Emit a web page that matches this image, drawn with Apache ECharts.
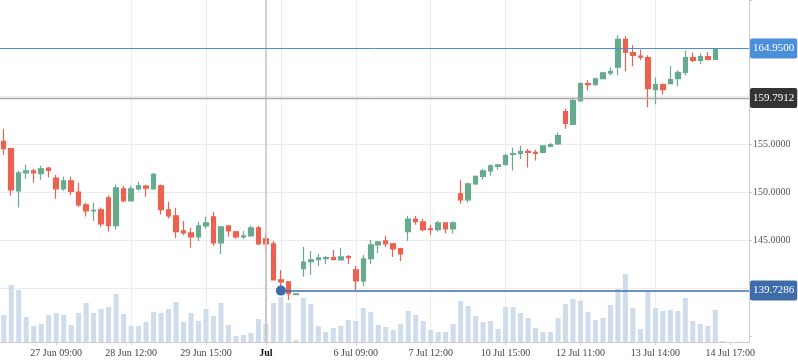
<!DOCTYPE html>
<html><head><meta charset="utf-8">
<script src="https://cdn.jsdelivr.net/npm/echarts@6/dist/echarts.min.js"></script>
<style>html,body{margin:0;padding:0;background:#fff}#c{width:798px;height:363px}</style>
</head><body><div id="c"></div>
<script>
const openP  = [155.27,154.51,150.12,152.00,152.20,151.90,152.50,151.45,150.33,151.17,
                150.00,148.66,148.04,148.14,149.39,146.50,150.33,149.08,150.33,150.62,
                150.33,150.65,148.14,147.52,145.95,145.74,145.33,146.47,147.41,144.70,
                146.47,145.85,145.33,145.43,146.26,145.12,144.60,140.84,140.63,139.30,
                142.01,142.74,142.95,143.06,143.16,142.92,143.27,141.88,140.73,143.06,
                144.49,144.90,144.60,144.10,145.88,147.18,146.89,146.16,146.09,146.78,
                146.16,149.81,149.19,150.84,151.62,152.21,152.66,152.87,153.92,154.02,
                154.23,154.12,154.12,154.75,155.00,158.38,157.05,159.49,161.29,161.22,
                161.82,162.37,163.00,165.89,164.53,164.15,164.01,160.67,161.19,161.29,
                161.82,162.47,164.01,163.70,164.11,163.80,164.95];
const closeP = [154.51,150.23,152.00,152.20,152.00,152.42,152.25,150.33,151.17,150.05,
                148.66,148.04,148.10,146.68,146.50,150.44,149.08,150.33,150.65,150.41,
                151.83,148.17,147.52,145.88,145.74,145.33,146.47,146.78,144.70,146.37,
                145.95,145.33,145.43,146.26,144.60,144.60,140.84,140.63,139.40,139.38,
                142.71,142.92,143.13,143.16,142.95,143.24,143.16,140.73,143.03,144.49,
                144.80,144.60,144.07,143.55,147.18,146.92,146.09,146.09,146.78,146.16,
                146.78,149.19,150.84,151.62,152.21,152.73,152.84,153.78,153.99,154.23,
                154.12,154.02,154.82,154.93,155.87,157.15,159.52,161.29,161.19,161.78,
                162.41,162.58,165.89,164.56,164.22,164.04,160.77,161.19,160.67,161.71,
                162.47,164.01,163.70,164.11,163.80,164.95,164.95];
const lowP   = [153.88,149.64,148.38,151.38,150.96,151.27,151.52,149.30,150.12,149.70,
                148.45,147.44,147.00,146.37,145.88,146.09,148.97,149.00,150.12,149.50,
                150.23,147.65,147.23,145.22,145.53,144.18,144.90,146.16,144.39,143.55,
                145.33,145.10,145.10,145.33,144.49,143.97,140.84,139.79,138.74,139.30,
                141.18,141.39,142.30,142.50,142.95,142.90,142.50,139.79,140.20,142.50,
                143.65,144.28,143.24,142.82,144.90,146.58,145.88,145.53,145.88,145.67,
                145.67,148.77,148.90,150.75,151.27,151.69,152.32,152.73,152.24,153.43,
                152.56,153.29,154.00,154.75,154.90,156.60,157.05,159.42,160.56,161.01,
                161.71,162.16,162.16,162.58,163.10,163.73,158.82,159.13,160.15,161.29,
                161.01,162.16,163.52,163.31,163.70,163.80,164.95];
const highP  = [156.60,154.61,152.21,152.84,152.42,152.73,152.63,151.80,151.59,151.59,
                150.96,148.87,148.87,148.38,149.64,150.75,150.65,150.65,151.06,150.75,
                152.00,150.78,148.98,148.35,146.99,146.26,146.89,147.41,147.93,146.40,
                146.50,145.95,145.95,146.47,146.47,145.74,144.90,141.88,140.70,139.40,
                144.28,143.86,143.55,143.34,143.97,144.18,143.45,142.30,143.45,145.00,
                144.90,145.43,144.70,144.18,147.50,147.50,147.18,146.58,146.99,146.80,
                146.92,151.27,150.99,151.72,152.39,152.87,152.87,153.96,154.61,154.82,
                154.48,154.40,154.85,155.14,156.18,158.68,159.70,161.43,161.64,161.92,
                162.52,163.00,166.34,166.23,165.30,164.84,164.25,161.92,161.29,163.10,
                162.65,164.74,164.53,164.43,164.57,164.95,164.95];
const volume = [27,57,52,25,16,18,27,29,27,17,
                29,39,29,33,35,48,28,16,16,20,
                30,29,33,40,20,29,21,33,26,39,
                17,6,7,9,23,18,39,45,39,2,
                44,38,16,10,14,16,22,21,34,30,
                17,15,12,18,31,27,21,12,10,10,
                18,41,36,26,20,21,13,35,35,29,
                24,14,10,10,24,38,43,41,30,22,
                24,37,53,68,34,13,51,34,31,32,
                31,44,21,18,16,32,1];
const tickIndex  = [7,17,27,35,47,57,67,77,87,97];
const tickLabels = ['27 Jun 09:00','28 Jun 12:00','29 Jun 15:00','Jul','6 Jul 09:00',
                    '7 Jul 12:00','10 Jul 15:00','12 Jul 11:00','13 Jul 14:00','14 Jul 17:00'];
const gridIndexList = [7,17,27,37,47,57,67,77,87,97];
const slotCount = 100;
const yTickLabels = [145,150,155];
const levelHigh = 164.95;
const levelMid = 159.7912;
const levelLow = 139.7286;
const lowMarkIndex = 37;
const monthBreakIndex = 35;

const FONT = 'Liberation Serif';
const categories = Array.from({length: slotCount}, (_, i) => String(i));
const candleData = openP.map((o, i) => [o, closeP[i], lowP[i], highP[i]]);
const GRID_COLOR = '#ececec';
const AXIS_COLOR = '#cccccc';

const chart = echarts.init(document.getElementById('c'), null, {renderer: 'canvas'});
const isTick = (i) => tickIndex.includes(i);
const isGrid = (i) => gridIndexList.includes(i);

chart.setOption({
  animation: false,
  backgroundColor: '#ffffff',
  grid: [
    {left: 0, right: 49, top: 0, height: 336},
    {left: 0, right: 49, top: 242, height: 100}
  ],
  xAxis: [
    {type: 'category', gridIndex: 0, data: categories, boundaryGap: true,
     axisLine: {show: false, onZero: false}, axisTick: {show: false}, axisLabel: {show: false},
     splitLine: {show: true, showMinLine: false, showMaxLine: false, interval: isGrid, alignWithLabel: true,
                 lineStyle: {color: GRID_COLOR, width: 1}}},
    {type: 'category', gridIndex: 1, data: categories, boundaryGap: true,
     axisLine: {show: true, onZero: false, lineStyle: {color: AXIS_COLOR, width: 1}},
     axisTick: {show: true, interval: isTick, alignWithLabel: true, length: 3, lineStyle: {color: AXIS_COLOR}},
     splitLine: {show: true, showMinLine: false, showMaxLine: false, interval: isGrid, alignWithLabel: true,
                 lineStyle: {color: GRID_COLOR, width: 1}},
     axisLabel: {show: true, interval: isTick, margin: 6, color: '#444', fontFamily: FONT, fontSize: 10,
       hideOverlap: false,
       formatter: (v) => {
         const k = tickIndex.indexOf(parseInt(v, 10));
         if (k < 0) return '';
         return parseInt(v, 10) === monthBreakIndex ? '{b|' + tickLabels[k] + '}' : tickLabels[k];
       },
       rich: {b: {fontWeight: 'bold', color: '#111', fontFamily: FONT, fontSize: 10}}}},
    {type: 'value', gridIndex: 0, min: 0, max: slotCount, show: false}
  ],
  yAxis: [
    {type: 'value', gridIndex: 0, position: 'right', min: 135, max: 170, interval: 5, scale: true,
     axisLine: {show: true, onZero: false, lineStyle: {color: AXIS_COLOR, width: 1}},
     axisTick: {show: true, length: 3, lineStyle: {color: AXIS_COLOR}},
     axisLabel: {margin: 4, color: '#555', fontFamily: FONT, fontSize: 10,
       formatter: (v) => yTickLabels.includes(Math.round(v)) ? v.toFixed(4) : ''},
     splitLine: {show: true, showMinLine: false, showMaxLine: false,
                 lineStyle: {color: GRID_COLOR, width: 1}}},
    {type: 'value', gridIndex: 1, position: 'right', min: 0, max: 100,
     axisLine: {show: true, onZero: false, lineStyle: {color: AXIS_COLOR, width: 1}},
     axisTick: {show: false}, axisLabel: {show: false}, splitLine: {show: false}}
  ],
  series: [
    {type: 'bar', xAxisIndex: 1, yAxisIndex: 1, data: volume, barWidth: 5, z: 1,
     itemStyle: {color: '#cfdcec'}, silent: true,
     markLine: {silent: true, symbol: ['none', 'none'], label: {show: false},
       lineStyle: {color: '#c4c4c4', width: 1.5, type: 'solid'},
       data: [{xAxis: monthBreakIndex}]}},
    {type: 'candlestick', xAxisIndex: 0, yAxisIndex: 0, data: candleData, barWidth: 5, z: 3,
     itemStyle: {color: '#68aa8e', color0: '#ea6250', borderColor: '#68aa8e', borderColor0: '#ea6250', borderWidth: 1.2},
     markLine: {silent: true, symbol: ['none', 'none'], label: {show: false},
       lineStyle: {color: '#c4c4c4', width: 1.5, type: 'solid'},
       data: [{xAxis: monthBreakIndex}]}},
    {type: 'line', xAxisIndex: 2, yAxisIndex: 0, data: [], z: 5, silent: true,
     markLine: {silent: true, symbol: ['none', 'none'], animation: false,
       label: {show: true, position: 'end', distance: 1, color: '#fff', fontFamily: FONT, fontSize: 11,
               padding: [4, 3, 4, 3], lineHeight: 12, borderRadius: 2},
       data: [
         {yAxis: levelHigh, lineStyle: {color: '#4a8fd8', width: 1, type: 'solid'},
          label: {formatter: levelHigh.toFixed(4), backgroundColor: '#4a8fd8'}},
         {yAxis: levelMid, lineStyle: {color: '#a6a6a6', width: 1.3, type: 'solid'},
          label: {formatter: levelMid.toFixed(4), backgroundColor: '#333333'}},
         [{coord: [lowMarkIndex + 0.5, levelLow], symbol: 'circle', symbolSize: 10,
           lineStyle: {color: '#3e6ca9', width: 1.5, type: 'solid'},
           itemStyle: {color: '#4a74b4'},
           label: {formatter: levelLow.toFixed(4), backgroundColor: '#3e6ca9'}},
          {coord: [slotCount, levelLow], symbol: 'none'}]
       ]}}
  ]
});
</script></body></html>
